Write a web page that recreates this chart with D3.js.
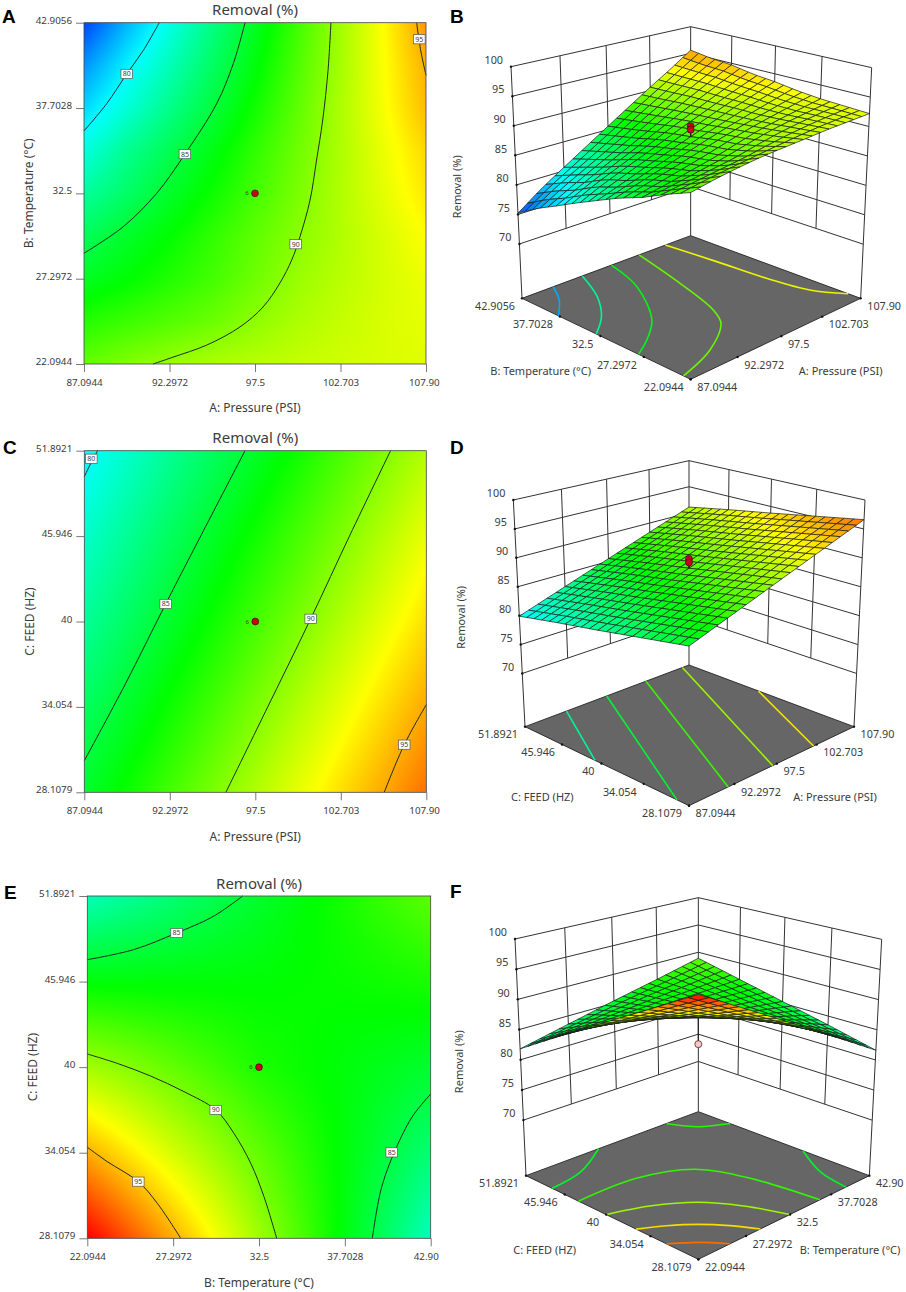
<!DOCTYPE html>
<html lang="en">

<head>
    <meta charset="UTF-8">
    <title>Removal (%) response surfaces</title>
    <script src="https://cdn.jsdelivr.net/npm/d3@7"></script>
    <style>
        body { margin: 0; background: #fff; }
        text { font-family: "Noto Sans", sans-serif; fill: #3c3c3c; }
        .letter { font-family: "Liberation Sans", sans-serif; font-weight: bold; font-size: 19px; fill: #000; }
    </style>
</head>

<body>
    <svg id="chart" width="906" height="1292"></svg>

    <script>
        // factor levels are kept in coded units: -1 .. 1 across each axis
        const codedTicks = [-1, -0.5, 0, 0.5, 1]
        const pressureTicks = ['87.0944', '92.2972', '97.5', '102.703', '107.90']
        const temperatureTicks = ['22.0944', '27.2972', '32.5', '37.7028', '42.9056']
        const temperatureTicksCut = ['22.0944', '27.2972', '32.5', '37.7028', '42.90']
        const feedTicks = ['28.1079', '34.054', '40', '45.946', '51.8921']
        const removalTicks = [70, 75, 80, 85, 90, 95, 100]

        // Removal (%), rows run from low to high y factor
        const surfaceAB = [
            [89, 89.8, 90.4, 90.9, 91.2, 91.5, 91.8, 92, 92.2],
            [87.4, 88, 88.6, 89.2, 90.1, 90.9, 91.5, 92, 92.4],
            [85.6, 86.4, 87.3, 88.2, 89.3, 90.4, 91.2, 91.9, 92.6],
            [84.2, 85.4, 86.5, 87.7, 88.9, 90, 91, 92, 93],
            [82.5, 83.9, 85.4, 86.8, 88.2, 89.6, 91, 92.3, 93.6],
            [80.8, 82.8, 84.4, 86, 87.7, 89.3, 90.9, 92.5, 94],
            [79, 81, 83, 84.9, 86.9, 88.9, 90.9, 92.8, 94.7],
            [77.3, 79.7, 81.8, 84, 86.2, 88.5, 90.7, 92.9, 95],
            [75.2, 78.1, 80.6, 83.1, 85.6, 88.1, 90.6, 93, 95.6],
        ]
        const surfaceAC = [
            [85.4, 88.2, 91, 93.8, 96.6],
            [84, 86.8, 89.6, 92.4, 95.2],
            [82.6, 85.4, 88.2, 91, 93.8],
            [81.3, 84.1, 86.9, 89.7, 92.5],
            [79.9, 82.7, 85.5, 88.3, 91.1],
        ]
        const surfaceBC = [
            [99.6, 95.1, 90.6, 86.1, 81.6],
            [95.1, 91.9, 89, 86.2, 83.5],
            [90.7, 89, 87.2, 86.2, 85.3],
            [86.3, 86.3, 86.4, 86.7, 87.1],
            [81.8, 83.6, 85.4, 87.1, 88.9],
        ]

        // contour lines of the flat plots, as [x, y] in coded units
        const contoursA = [
            { level: 80, label: [-0.75, 0.70], points: [[-0.56, 1], [-0.653, 0.838], [-0.75, 0.70], [-0.867, 0.526], [-1, 0.366]] },
            { level: 85, label: [-0.41, 0.23], points: [[-0.058, 1], [-0.127, 0.76], [-0.224, 0.526], [-0.41, 0.23], [-0.575, 0], [-0.77, -0.195], [-1, -0.351]] },
            { level: 90, label: [0.238, -0.298], points: [[0.444, 1], [0.427, 0.72], [0.396, 0.43], [0.36, 0.195], [0.322, -0.039], [0.263, -0.254], [0.215, -0.39], [0.146, -0.525], [0.047, -0.666], [-0.088, -0.783], [-0.282, -0.889], [-0.48, -0.96], [-0.596, -1]] },
            { level: 95, label: [0.961, 0.903], points: [[0.945, 1], [0.969, 0.838], [1, 0.692]] },
        ]
        const contoursC = [
            { level: 80, label: [-0.959, 0.953], points: [[-0.922, 1], [-0.967, 0.916], [-1, 0.848]] },
            { level: 85, label: [-0.524, 0.103], points: [[-0.06, 1], [-0.306, 0.526], [-0.524, 0.103], [-0.762, -0.37], [-1, -0.815]] },
            { level: 90, label: [0.324, 0.016], points: [[0.791, 1], [0.554, 0.507], [0.324, 0.016], [0.06, -0.526], [-0.172, -1]] },
            { level: 95, label: [0.871, -0.721], points: [[1, -0.487], [0.871, -0.721], [0.754, -1]] },
        ]
        const contoursE = [
            { level: 85, label: [-0.48, 0.784], points: [[-1, 0.628], [-0.732, 0.686], [-0.48, 0.784], [-0.266, 0.881], [-0.095, 1]] },
            { level: 90, label: [-0.252, -0.25], points: [[-1, 0.077], [-0.825, 0.022], [-0.631, -0.052], [-0.437, -0.143], [-0.252, -0.25], [-0.146, -0.387], [-0.048, -0.562], [0.029, -0.757], [0.103, -1]] },
            { level: 95, label: [-0.703, -0.669], points: [[-1, -0.468], [-0.884, -0.552], [-0.703, -0.669], [-0.592, -0.796], [-0.456, -1]] },
            { level: 85, label: [0.773, -0.498], points: [[1, -0.157], [0.899, -0.28], [0.811, -0.445], [0.715, -0.698], [0.66, -1]] },
        ]

        // contour lines on the floors of the 3D plots
        const floorB = [
            { level: 78, points: [[-0.665, 1], [-0.8, 0.753], [-1, 0.52]] },
            { level: 82.5, points: [[-0.338, 1], [-0.531, 0.578], [-0.762, 0.26], [-1, 0.05]] },
            { level: 86, points: [[0, 1], [-0.156, 0.493], [-0.516, -0.075], [-0.789, -0.307], [-1, -0.44]] },
            { level: 89.3, points: [[0.338, 1], [0.154, 0.283], [-0.031, -0.292], [-0.168, -0.51], [-0.565, -0.773], [-1, -0.926]] },
            { level: 92.7, points: [[0.668, 1], [0.72, 0.392], [0.757, -0.17], [0.832, -0.593], [1, -0.87]] },
        ]
        const floorD = [
            { level: 82.5, points: [[-0.535, 1], [-1, 0.08]] },
            { level: 85.2, points: [[-0.06, 1], [-1, -0.87]] },
            { level: 87.9, points: [[0.43, 1], [-0.57, -1]] },
            { level: 90.6, points: [[0.91, 1], [-0.05, -1]] },
            { level: 93.5, points: [[1, 0.1], [0.46, -1]] },
        ]
        const floorF = [
            { level: 87.5, points: [[0.59, 1], [0.742, 0.742], [1, 0.59]] },
            { level: 85.5, points: [[-0.22, 1], [-0.631, 0.743], [-1, 0.66]] },
            { level: 85.5, points: [[1, -0.28], [0.772, -0.661], [0.69, -1]] },
            { level: 87.8, points: [[-1, 0.33], [-0.395, 0.322], [0.069, 0.108], [0.264, -0.337], [0.36, -1]] },
            { level: 90.7, points: [[-1, 0], [-0.664, -0.129], [-0.35, -0.35], [-0.147, -0.645], [0, -1]] },
            { level: 93.7, points: [[-1, -0.34], [-0.801, -0.462], [-0.616, -0.616], [-0.462, -0.801], [-0.34, -1]] },
            { level: 96.6, points: [[-1, -0.67], [-0.819, -0.819], [-0.67, -1]] },
        ]

        const floorLevel = 60.8
        const colorScale = d3.scaleLinear()
            .domain([73.5, 80, 86.5, 93, 99.5])
            .range(['#0000ff', '#00ffff', '#00ff00', '#ffff00', '#ff0000'])
            .clamp(true)

        const svg = d3.select('#chart')

        const sampleSurface = (table, x, y) => {
            const rows = table.length - 1
            const cols = table[0].length - 1
            const ry = (y + 1) / 2 * rows
            const rx = (x + 1) / 2 * cols
            const i = Math.min(Math.floor(ry), rows - 1)
            const j = Math.min(Math.floor(rx), cols - 1)
            const ty = ry - i
            const tx = rx - j
            return (table[i][j] * (1 - tx) + table[i][j + 1] * tx) * (1 - ty)
                + (table[i + 1][j] * (1 - tx) + table[i + 1][j + 1] * tx) * ty
        }

        const line = d3.line().curve(d3.curveCatmullRom.alpha(0.5))

        // ---- flat contour plot ----
        const drawContourPlot = (o) => {
            const g = svg.append('g')
            const x = d3.scaleLinear().domain([-1, 1]).range([o.left, o.right])
            const y = d3.scaleLinear().domain([-1, 1]).range([o.bottom, o.top])
            const w = Math.round(o.right - o.left)
            const h = Math.round(o.bottom - o.top)

            // shaded field goes through a canvas, the rest stays svg
            const canvas = document.createElement('canvas')
            canvas.width = w
            canvas.height = h
            const ctx = canvas.getContext('2d')
            const img = ctx.createImageData(w, h)
            for (let py = 0; py < h; py++) {
                for (let px = 0; px < w; px++) {
                    const c = d3.rgb(colorScale(sampleSurface(o.surface, x.invert(o.left + px + 0.5), y.invert(o.top + py + 0.5))))
                    const k = (py * w + px) * 4
                    img.data[k] = c.r
                    img.data[k + 1] = c.g
                    img.data[k + 2] = c.b
                    img.data[k + 3] = 255
                }
            }
            ctx.putImageData(img, 0, 0)
            g.append('image')
                .attr('x', o.left).attr('y', o.top)
                .attr('width', o.right - o.left).attr('height', o.bottom - o.top)
                .attr('preserveAspectRatio', 'none')
                .attr('href', canvas.toDataURL())

            g.selectAll('path.contour')
                .data(o.contours)
                .join('path')
                .attr('class', 'contour')
                .attr('d', d => line(d.points.map(p => [x(p[0]), y(p[1])])))
                .attr('fill', 'none')
                .attr('stroke', '#1f2a1f')
                .attr('stroke-width', 1)

            g.append('rect')
                .attr('x', o.left).attr('y', o.top)
                .attr('width', o.right - o.left).attr('height', o.bottom - o.top)
                .attr('fill', 'none').attr('stroke', '#444').attr('stroke-width', 0.8)

            const xAxis = g.append('g')
                .attr('transform', `translate(0,${o.bottom})`)
                .call(d3.axisBottom(x).tickValues(codedTicks).tickFormat((d, i) => o.xTicks[i]).tickSize(8).tickPadding(7))
            const yAxis = g.append('g')
                .attr('transform', `translate(${o.left},0)`)
                .call(d3.axisLeft(y).tickValues(codedTicks).tickFormat((d, i) => o.yTicks[i]).tickSize(8).tickPadding(4))
            xAxis.select('.domain').remove()
            yAxis.select('.domain').remove()
            g.selectAll('.tick line').attr('stroke', '#555').attr('stroke-width', 0.8)
            g.selectAll('.tick text').attr('font-family', null).style('font-size', '9.8px')
            yAxis.selectAll('.tick text').attr('dy', '0.05em')
            // last x label is cut by the figure edge, it starts left of its tick
            xAxis.selectAll('.tick:last-of-type text').attr('text-anchor', 'start').attr('x', -17.5)

            // contour labels
            const labels = g.selectAll('g.clabel')
                .data(o.contours)
                .join('g')
                .attr('class', 'clabel')
                .attr('transform', d => `translate(${x(d.label[0])},${y(d.label[1])})`)
            labels.append('rect')
                .attr('x', -5.8).attr('y', -4.6).attr('width', 11.6).attr('height', 9.2)
                .attr('fill', '#fff').attr('stroke', '#555').attr('stroke-width', 0.7)
            labels.append('text')
                .attr('text-anchor', 'middle').attr('dy', '0.35em')
                .style('font-size', '7px')
                .text(d => d.level)

            // design point at the centre
            g.append('text')
                .attr('x', x(0) - 8).attr('y', y(0))
                .attr('text-anchor', 'middle').attr('dy', '0.35em')
                .style('font-size', '6px').text('6')
            g.append('circle')
                .attr('cx', x(0)).attr('cy', y(0)).attr('r', 3.4)
                .attr('fill', '#c8001e').attr('stroke', '#3a1010').attr('stroke-width', 0.7)

            const midX = (o.left + o.right) / 2
            const midY = (o.top + o.bottom) / 2
            g.append('text')
                .attr('x', midX).attr('y', o.top - 12.5)
                .attr('text-anchor', 'middle').attr('dy', '0.35em')
                .style('font-size', '15px').text('Removal (%)')
            g.append('text')
                .attr('x', midX).attr('y', o.bottom + 44)
                .attr('text-anchor', 'middle').attr('dy', '0.35em')
                .style('font-size', '12px').text(o.xTitle)
            g.append('text')
                .attr('transform', `translate(${o.left - 55},${midY}) rotate(-90)`)
                .attr('text-anchor', 'middle').attr('dy', '0.35em')
                .style('font-size', '12px').text(o.yTitle)
            g.append('text')
                .attr('class', 'letter')
                .attr('x', o.letterX).attr('y', o.letterY).text(o.letter)
        }

        // ---- 3D surface plot ----
        // unit square -> four corners, (0,0) front, (1,0) right, (1,1) back, (0,1) left
        const quadMap = ([p0, p1, p2, p3]) => {
            const dx1 = p1[0] - p2[0], dx2 = p3[0] - p2[0], sx = p0[0] - p1[0] + p2[0] - p3[0]
            const dy1 = p1[1] - p2[1], dy2 = p3[1] - p2[1], sy = p0[1] - p1[1] + p2[1] - p3[1]
            const den = dx1 * dy2 - dx2 * dy1
            const g = (sx * dy2 - dx2 * sy) / den
            const h = (dx1 * sy - sx * dy1) / den
            const a = p1[0] - p0[0] + g * p1[0], b = p3[0] - p0[0] + h * p3[0]
            const d = p1[1] - p0[1] + g * p1[1], e = p3[1] - p0[1] + h * p3[1]
            return (u, v) => {
                const w = g * u + h * v + 1
                return [(a * u + b * v + p0[0]) / w, (d * u + e * v + p0[1]) / w]
            }
        }

        const drawSurfacePlot = (o) => {
            const g = svg.append('g')
            const toPage = p => [o.ox + p[0] / 3, o.oy + p[1] / 3]
            const floorAt = quadMap(o.floor.map(toPage))
            const topAt = quadMap(o.roof.map(toPage))
            const unit = d3.scaleLinear().domain([-1, 1]).range([0, 1])
            const height = d3.scaleLinear().domain([floorLevel, 100]).range([0, 1])
            // coded x, coded y, removal -> page position
            const project = (x, y, z) => {
                const a = floorAt(unit(x), unit(y))
                const b = topAt(unit(x), unit(y))
                const t = height(z)
                return [a[0] + (b[0] - a[0]) * t, a[1] + (b[1] - a[1]) * t]
            }
            const straight = d3.line()

            // walls
            const wallLines = []
            removalTicks.forEach(z => {
                wallLines.push([project(-1, 1, z), project(1, 1, z)])
                wallLines.push([project(1, 1, z), project(1, -1, z)])
            })
            codedTicks.forEach(t => {
                const bottom = Math.abs(t) === 1 ? floorLevel : 70
                wallLines.push([project(t, 1, 100), project(t, 1, bottom)])
                if (t !== 1) wallLines.push([project(1, t, 100), project(1, t, bottom)])
            })
            g.selectAll('path.wall')
                .data(wallLines)
                .join('path')
                .attr('class', 'wall')
                .attr('d', d => straight(d))
                .attr('stroke', '#333')
                .attr('stroke-width', 1)
                .attr('fill', 'none')

            // floor
            g.append('path')
                .attr('d', straight([project(-1, -1, floorLevel), project(1, -1, floorLevel), project(1, 1, floorLevel), project(-1, 1, floorLevel)]) + 'Z')
                .attr('fill', '#666')
                .attr('stroke', '#222')
                .attr('stroke-width', 0.9)
            g.selectAll('path.floorline')
                .data(o.floorLines)
                .join('path')
                .attr('class', 'floorline')
                .attr('d', d => line(d.points.map(p => project(p[0], p[1], floorLevel))))
                .attr('fill', 'none')
                .attr('stroke', d => d3.color(colorScale(d.level)).darker(0.1))
                .attr('stroke-width', 1.6)

            // tick dots
            const dots = []
            codedTicks.forEach(t => {
                dots.push(project(t, -1, floorLevel))
                dots.push(project(-1, t, floorLevel))
            })
            removalTicks.forEach(z => dots.push(project(-1, 1, z)))
            g.selectAll('circle.tickdot')
                .data(dots)
                .join('circle')
                .attr('class', 'tickdot')
                .attr('cx', d => d[0]).attr('cy', d => d[1]).attr('r', 1.2)
                .attr('fill', '#111')

            // design points that sit under the surface go first
            const drawDesign = (list) => {
                list.forEach(z => {
                    const p = project(0, 0, z)
                    const s = project(0, 0, sampleSurface(o.surface, 0, 0))
                    g.append('path').attr('d', straight([s, p])).attr('stroke', '#222').attr('stroke-width', 1.2)
                    g.append('circle')
                        .attr('cx', p[0]).attr('cy', p[1]).attr('r', 3.5)
                        .attr('fill', o.dotFill).attr('stroke', '#3a1010').attr('stroke-width', 0.7)
                })
            }
            if (o.dotBelow) drawDesign(o.design)

            // mesh, painted from the back corner to the front one
            const meshSteps = 20
            const cells = []
            for (let i = 0; i < meshSteps; i++) {
                for (let j = 0; j < meshSteps; j++) {
                    const x0 = -1 + 2 * i / meshSteps, x1 = -1 + 2 * (i + 1) / meshSteps
                    const y0 = -1 + 2 * j / meshSteps, y1 = -1 + 2 * (j + 1) / meshSteps
                    const corners = [[x0, y0], [x1, y0], [x1, y1], [x0, y1]]
                    const values = corners.map(c => sampleSurface(o.surface, c[0], c[1]))
                    cells.push({
                        order: x0 + y0,
                        value: d3.mean(values),
                        path: corners.map((c, k) => project(c[0], c[1], values[k])),
                    })
                }
            }
            cells.sort((a, b) => d3.descending(a.order, b.order))
            g.selectAll('path.cell')
                .data(cells)
                .join('path')
                .attr('class', 'cell')
                .attr('d', d => straight(d.path) + 'Z')
                .attr('fill', d => colorScale(d.value))
                .attr('stroke', '#1a1a1a')
                .attr('stroke-width', 0.7)
                .attr('stroke-linejoin', 'round')

            if (!o.dotBelow) drawDesign(o.design)

            // labels
            g.selectAll('text.z')
                .data(removalTicks)
                .join('text')
                .attr('class', 'z')
                .attr('x', d => project(-1, 1, d)[0] - 8)
                .attr('y', d => project(-1, 1, d)[1] - 6.5)
                .attr('text-anchor', 'end').attr('dy', '0.35em')
                .style('font-size', '10.8px')
                .text(d => d)
            g.selectAll('text.xtick')
                .data(codedTicks)
                .join('text')
                .attr('class', 'xtick')
                .attr('x', d => project(d, -1, floorLevel)[0] + 6.6)
                .attr('y', d => project(d, -1, floorLevel)[1] + 8)
                .attr('dy', '0.35em')
                .style('font-size', '10.8px')
                .text((d, i) => o.xTicks[i])
            g.selectAll('text.ytick')
                .data(codedTicks)
                .join('text')
                .attr('class', 'ytick')
                .attr('x', d => project(-1, d, floorLevel)[0] - 7)
                .attr('y', d => project(-1, d, floorLevel)[1] + 8)
                .attr('text-anchor', 'end').attr('dy', '0.35em')
                .style('font-size', '10.8px')
                .text((d, i) => o.yTicks[i])

            const put = (p, text, rotate) => {
                const q = toPage(p)
                g.append('text')
                    .attr('transform', `translate(${q[0]},${q[1]})` + (rotate ? ' rotate(-90)' : ''))
                    .attr('text-anchor', 'middle').attr('dy', '0.35em')
                    .style('font-size', '11px').text(text)
            }
            put(o.xTitleAt, o.xTitle)
            put(o.yTitleAt, o.yTitle)
            put(o.zTitleAt, 'Removal (%)', true)
            g.append('text')
                .attr('class', 'letter')
                .attr('x', o.letterX).attr('y', o.letterY).text(o.letter)
        }

        drawContourPlot({
            letter: 'A', letterX: 2, letterY: 23,
            left: 84, right: 426, top: 22.7, bottom: 364,
            surface: surfaceAB, contours: contoursA,
            xTicks: pressureTicks, yTicks: temperatureTicks,
            xTitle: 'A: Pressure (PSI)', yTitle: 'B: Temperature (°C)',
        })
        drawContourPlot({
            letter: 'C', letterX: 3, letterY: 454,
            left: 84.3, right: 426.3, top: 450.7, bottom: 792.3,
            surface: surfaceAC, contours: contoursC,
            xTicks: pressureTicks, yTicks: feedTicks,
            xTitle: 'A: Pressure (PSI)', yTitle: 'C: FEED (HZ)',
        })
        drawContourPlot({
            letter: 'E', letterX: 4, letterY: 899,
            left: 87.3, right: 430.7, top: 896, bottom: 1238.3,
            surface: surfaceBC, contours: contoursE,
            xTicks: temperatureTicksCut, yTicks: feedTicks,
            xTitle: 'B: Temperature (°C)', yTitle: 'C: FEED (HZ)',
        })

        drawSurfacePlot({
            letter: 'B', letterX: 450, letterY: 23, ox: 450, oy: 0,
            floor: [[722, 1138], [1232, 895], [722, 707], [216, 895]],
            roof: [[722, 359], [1265, 203], [722, 80], [183, 200]],
            surface: surfaceAB, floorLines: floorB,
            design: [90, 89.4], dotFill: '#c8001e', dotBelow: false,
            xTicks: pressureTicks, yTicks: temperatureTicks,
            xTitle: 'A: Pressure (PSI)', xTitleAt: [1172, 1113],
            yTitle: 'B: Temperature (°C)', yTitleAt: [272, 1113], zTitleAt: [20, 560],
        })
        drawSurfacePlot({
            letter: 'D', letterX: 450, letterY: 454, ox: 450, oy: 425,
            floor: [[717, 1142], [1212, 905], [717, 720], [225, 905]],
            roof: [[717, 379], [1245, 225], [717, 107], [190, 225]],
            surface: surfaceAC, floorLines: floorD,
            design: [89.8, 89.2], dotFill: '#c8001e', dotBelow: false,
            xTicks: pressureTicks, yTicks: feedTicks,
            xTitle: 'A: Pressure (PSI)', xTitleAt: [1155, 1117],
            yTitle: 'C: FEED (HZ)', yTitleAt: [277, 1117], zTitleAt: [32, 577],
        })
        drawSurfacePlot({
            letter: 'F', letterX: 450, letterY: 898, ox: 450, oy: 870,
            floor: [[745, 1168], [1258, 917], [745, 725], [228, 917]],
            roof: [[745, 365], [1295, 208], [745, 83], [195, 207]],
            surface: surfaceBC, floorLines: floorF,
            design: [82.6], dotFill: '#f8c8c8', dotBelow: true,
            xTicks: temperatureTicksCut, yTicks: feedTicks,
            xTitle: 'B: Temperature (°C)', xTitleAt: [1200, 1140],
            yTitle: 'C: FEED (HZ)', yTitleAt: [284, 1140], zTitleAt: [27, 575],
        })
    </script>
</body>

</html>
